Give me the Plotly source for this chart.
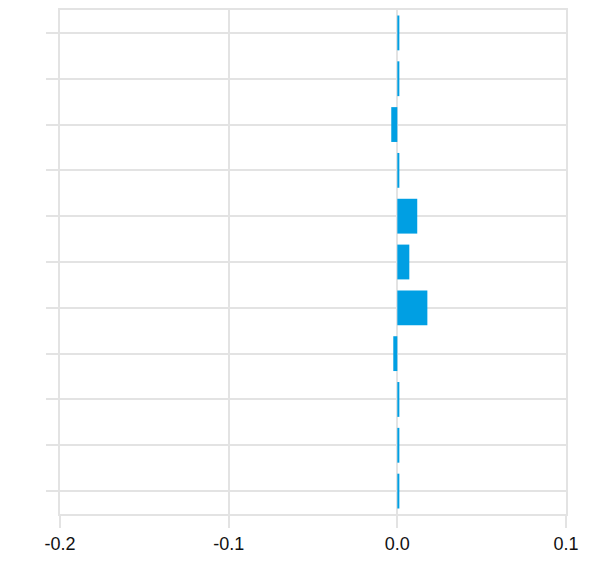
import plotly.graph_objects as go

categories = ["c0", "c1", "c2", "c3", "c4", "c5", "c6", "c7", "c8", "c9", "c10"]
values = [0.0012, 0.0012, 0.0012, -0.0024, 0.0178, 0.0071, 0.0118, 0.0012, -0.0036, 0.0012, 0.0012]
x_ticks = [-0.2, -0.1, 0.0, 0.1]
x_tick_text = ["-0.2", "-0.1", "0.0", "0.1"]

grid = "#e3e3e3"

fig = go.Figure(go.Bar(
    x=values, y=categories, orientation="h",
    marker=dict(color="#009fe3", line=dict(width=0)),
))

fig.update_layout(
    width=613, height=564,
    margin=dict(l=52, r=55, t=0, b=58),
    paper_bgcolor="white", plot_bgcolor="white",
    bargap=0.24,
    showlegend=False,
    font=dict(family="Liberation Sans, Arial, sans-serif", size=18, color="#111111"),
)
fig.update_xaxes(
    range=[-0.2, 0.1], tickvals=x_ticks, ticktext=x_tick_text,
    showgrid=True, gridcolor=grid, gridwidth=2,
    zeroline=False,
    showline=True, linecolor=grid, linewidth=2, mirror=True,
    ticks="outside", ticklen=12, tickcolor=grid, tickwidth=2,
    tickfont=dict(size=18, color="#111111"),
)
fig.update_yaxes(
    categoryorder="array", categoryarray=categories,
    range=[-0.5, 10.5],
    showgrid=True, gridcolor=grid, gridwidth=2,
    zeroline=False,
    showline=True, linecolor=grid, linewidth=2, mirror=True,
    ticks="outside", ticklen=12, tickcolor=grid, tickwidth=2,
    showticklabels=False,
)

fig.write_html("out.html")
